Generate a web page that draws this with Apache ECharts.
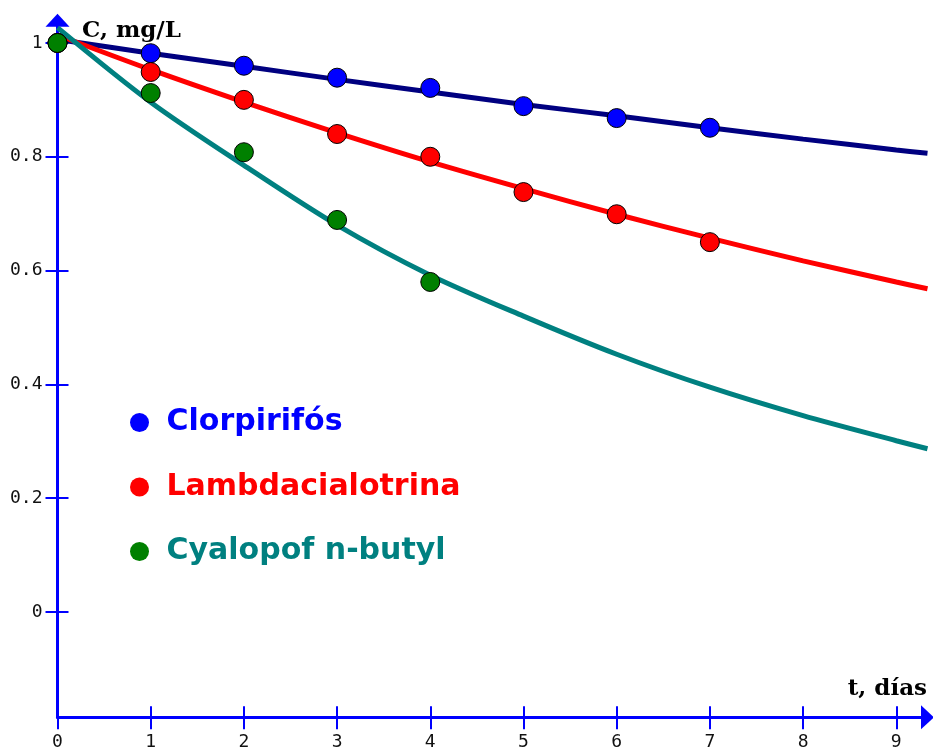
<!DOCTYPE html>
<html>
<head>
<meta charset="utf-8">
<script src="https://cdn.jsdelivr.net/npm/echarts@6/dist/echarts.min.js"></script>
<style>html,body{margin:0;padding:0;background:#fff}#c{width:933px;height:754px}</style>
</head>
<body>
<div id="c"></div>
<script>
// Observed data (markers)
const tObs = [0, 1, 2, 3, 4, 5, 6, 7];
const clorpObs = [1.0, 0.982, 0.960, 0.939, 0.921, 0.889, 0.868, 0.851];
const lambdaObs = [1.0, 0.949, 0.900, 0.840, 0.800, 0.738, 0.699, 0.650];
const tObsCy = [0, 1, 2, 3, 4];
const cyalObs = [1.0, 0.912, 0.808, 0.689, 0.580];

// Fitted curves
const tFit = [0, 1, 2, 3, 4, 5, 6, 7, 8, 9, 9.335];
const clorpFit = [1.006, 0.982, 0.959, 0.936, 0.914, 0.892, 0.872, 0.851, 0.831, 0.812, 0.806];
const lambdaFit = [1.014, 0.953, 0.896, 0.842, 0.791, 0.744, 0.699, 0.657, 0.617, 0.580, 0.568];
const cyalFit = [1.027, 0.896, 0.785, 0.680, 0.592, 0.520, 0.453, 0.395, 0.345, 0.301, 0.287];

// Tick labels
const xTicks = [0, 1, 2, 3, 4, 5, 6, 7, 8, 9];
const yTicks = [0, 0.2, 0.4, 0.6, 0.8, 1];

const names = ['Clorpirifós', 'Lambdacialotrina', 'Cyalopof n-butyl'];
const pair = (xs, ys) => xs.map((x, i) => [x, ys[i]]);

const AX = '#0000ff';
const chart = echarts.init(document.getElementById('c'));

const xBase = {
  type: 'value', min: 0, max: 9.335, interval: 1, gridIndex: 0, position: 'bottom', offset: 0,
  splitLine: { show: false }
};
const yBase = {
  type: 'value', min: -0.185, max: 1.04, gridIndex: 0, position: 'left', offset: 0,
  splitLine: { show: false }
};

chart.setOption({
  animation: false,
  backgroundColor: '#ffffff',
  grid: { left: 57.5, right: 5.5, top: 20.2, bottom: 36.7, containLabel: false },
  xAxis: [
    Object.assign({}, xBase, {
      axisLine: { show: true, onZero: false, lineStyle: { color: AX, width: 3 }, symbol: ['none', 'triangle'], symbolSize: [24, 13] },
      axisTick: { show: true, inside: false, length: 12, lineStyle: { color: AX, width: 2 }, customValues: xTicks },
      axisLabel: { show: true, customValues: xTicks, margin: 16, color: '#111', fontSize: 18, fontFamily: 'DejaVu Sans Mono', formatter: v => String(v) }
    }),
    Object.assign({}, xBase, {
      axisLine: { show: false, onZero: false },
      axisTick: { show: true, inside: true, length: 11, lineStyle: { color: AX, width: 2 }, customValues: xTicks },
      axisLabel: { show: false }
    })
  ],
  yAxis: [
    Object.assign({}, yBase, {
      axisLine: { show: true, onZero: false, lineStyle: { color: AX, width: 3 }, symbol: ['none', 'triangle'], symbolSize: [24, 13] },
      axisTick: { show: true, inside: false, length: 12, lineStyle: { color: AX, width: 2 }, customValues: yTicks },
      axisLabel: { show: true, customValues: yTicks, margin: 15, color: '#111', fontSize: 18, fontFamily: 'DejaVu Sans Mono', formatter: v => String(v) }
    }),
    Object.assign({}, yBase, {
      axisLine: { show: false, onZero: false },
      axisTick: { show: true, inside: true, length: 11, lineStyle: { color: AX, width: 2 }, customValues: yTicks },
      axisLabel: { show: false }
    })
  ],
  legend: {
    orient: 'vertical', left: 125, top: 402.5, itemGap: 34.5,
    itemWidth: 44, itemHeight: 19, icon: 'circle',
    itemStyle: { borderWidth: 0 },
    textStyle: { fontSize: 30, fontWeight: 'bold', fontFamily: 'DejaVu Sans' },
    data: [
      { name: names[0], textStyle: { color: '#0000ff' } },
      { name: names[1], textStyle: { color: '#ff0000' } },
      { name: names[2], textStyle: { color: '#008080' } }
    ],
    selectedMode: false
  },
  graphic: [
    { type: 'text', left: 82, top: 20, silent: true,
      style: { text: 'C, mg/L', font: 'bold 23px "DejaVu Serif"', fill: '#000' } },
    { type: 'text', right: 6, top: 678, silent: true,
      style: { text: 't, días', font: 'bold 23px "DejaVu Serif"', fill: '#000' } }
  ],
  series: [
    { name: 'fit-clorp', type: 'line', data: pair(tFit, clorpFit), smooth: 0.3, showSymbol: false,
      lineStyle: { color: '#000080', width: 5 }, itemStyle: { color: '#000080' }, z: 2, silent: true },
    { name: 'fit-lambda', type: 'line', data: pair(tFit, lambdaFit), smooth: 0.3, showSymbol: false,
      lineStyle: { color: '#ff0000', width: 5 }, itemStyle: { color: '#ff0000' }, z: 2, silent: true },
    { name: 'fit-cyal', type: 'line', data: pair(tFit, cyalFit), smooth: 0.3, showSymbol: false,
      lineStyle: { color: '#008080', width: 5 }, itemStyle: { color: '#008080' }, z: 2, silent: true },
    { name: names[0], type: 'scatter', data: pair(tObs, clorpObs), symbolSize: 19, z: 3,
      itemStyle: { color: '#0000ff', borderColor: '#000', borderWidth: 1, opacity: 1 } },
    { name: names[1], type: 'scatter', data: pair(tObs, lambdaObs), symbolSize: 19, z: 3,
      itemStyle: { color: '#ff0000', borderColor: '#000', borderWidth: 1, opacity: 1 } },
    { name: names[2], type: 'scatter', data: pair(tObsCy, cyalObs), symbolSize: 19, z: 3,
      itemStyle: { color: '#008000', borderColor: '#000', borderWidth: 1, opacity: 1 } }
  ]
});
</script>
</body>
</html>
